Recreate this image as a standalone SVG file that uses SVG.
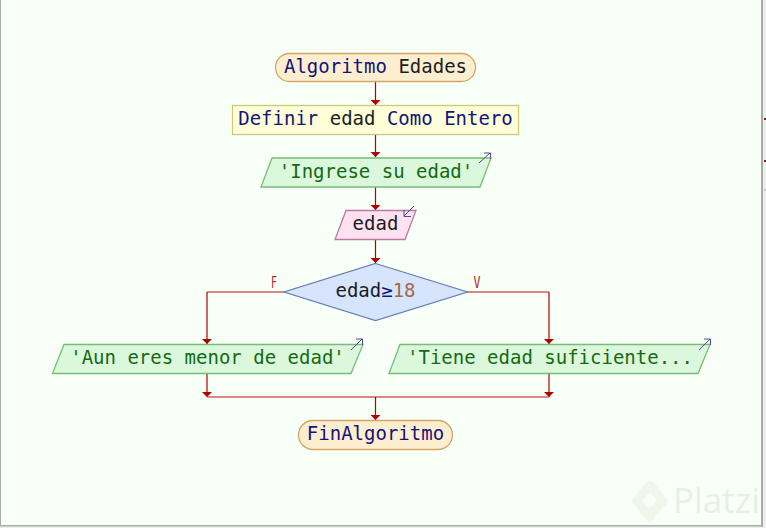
<svg xmlns="http://www.w3.org/2000/svg" width="766" height="528" viewBox="0 0 766 528">
<defs>
<marker id="ah" markerUnits="userSpaceOnUse" markerWidth="10" markerHeight="6" refX="5" refY="5" orient="0" overflow="visible"><path d="M0 0H10L5 5Z" fill="#b00000"/></marker>
</defs>
<style>
text{font-family:"DejaVu Sans Mono","Liberation Mono",monospace;font-size:19px;text-anchor:middle;fill:#1c1c24}
.k{fill:#14147c}.s{fill:#146a14}.n{fill:#a5694f}
.lbl{font-size:15px;fill:#b02828;font-family:"DejaVu Sans Mono",monospace}
.c{fill:none;stroke:#b00000;stroke-width:1.2}
.c2{fill:none;stroke:#d06060;stroke-width:1.4}
.m{marker-end:url(#ah)}
.io{fill:none;stroke:#4a4a9a;stroke-width:1}
.term{fill:#fdeed0;stroke:#cfa868;stroke-width:1.3}
.def{fill:#ffffd8;stroke:#cfc878;stroke-width:1.3}
.out{fill:#dcf8dc;stroke:#78bc78;stroke-width:1.3}
.inp{fill:#ffe2f0;stroke:#b87aa0;stroke-width:1.3}
.dec{fill:#d6e4fc;stroke:#6680b8;stroke-width:1.3}
</style>
<rect width="766" height="528" fill="#f8fff6"/>
<rect x="763" y="0" width="3" height="528" fill="#eeeeee"/>
<rect x="0" y="526.500" width="766" height="1.500" fill="#eeeeee"/>
<rect x="761" y="0" width="2" height="527" fill="#a8aca8"/>
<rect x="0" y="525" width="763" height="1.500" fill="#a8aca8"/>
<rect x="0" y="0" width="1" height="526" fill="#a8aca8"/>
<path d="M764 119H766M764 161H766" stroke="#8a2020" stroke-width="2"/>
<path d="M764 190H766" stroke="#b0a0b0" stroke-width="1"/>
<g id="watermark">
<path d="M650 485L637 501L650 517M650 485L663 501L653 511" fill="none" stroke="#f0f6ea" stroke-width="9" stroke-linejoin="round" stroke-linecap="round"/>
<text x="716.500" y="513" style="font-family:'Open Sans','Liberation Sans',sans-serif;font-size:35px;fill:#e9efe8">Platzi</text>
</g>
<g id="connectors">
<path class="c m" d="M375.500 82V105"/>
<path class="c m" d="M375.500 135V157"/>
<path class="c m" d="M375.500 187V210"/>
<path class="c m" d="M375.500 240V263"/>
<path class="c2" d="M284 292H207"/>
<path class="c m" d="M207 292V344"/>
<path class="c2" d="M467 292H549"/>
<path class="c m" d="M549 292V344"/>
<path class="c m" d="M207 374V397"/>
<path class="c m" d="M549 374V397"/>
<path class="c2" d="M207 397H549"/>
<path class="c m" d="M375.500 397V420"/>
<text class="lbl" x="274" y="288" textLength="6" lengthAdjust="spacingAndGlyphs">F</text>
<text class="lbl" x="477" y="288" textLength="7" lengthAdjust="spacingAndGlyphs">V</text>
</g>
<g id="start"><rect class="term" x="275.500" y="53.500" width="200" height="28" rx="14"/>
<text x="375.500" y="73"><tspan class="k">Algoritmo</tspan> Edades</text></g>
<g id="define"><rect class="def" x="232.500" y="105.500" width="286" height="29"/>
<text x="375.500" y="125"><tspan class="k">Definir</tspan> edad <tspan class="k">Como</tspan> <tspan class="k">Entero</tspan></text></g>
<g id="output1"><path class="out" d="M272 158H491L480 187H261Z"/>
<text class="s" x="376" y="178">'Ingrese su edad'</text>
<path class="io" d="M479 163L490 153M484 153H490.500V159"/></g>
<g id="input1"><path class="inp" d="M346 210.500H416L405 239.500H335Z"/>
<text x="375.500" y="230">edad</text>
<path class="io" d="M414 206L404 216M404 210V216.500H411"/></g>
<g id="decision"><path class="dec" d="M375.500 263.500L467.500 292L375.500 320.500L284 292Z"/>
<text x="375.500" y="297">edad<tspan class="k">≥</tspan><tspan class="n">18</tspan></text></g>
<g id="output2"><path class="out" d="M64 344.500H363L351 373.500H52.500Z"/>
<text class="s" x="207.500" y="364">'Aun eres menor de edad'</text>
<path class="io" d="M351 350L362 339M356 339H362.500V345"/></g>
<g id="output3"><path class="out" d="M400 344.500H710L698 373.500H389Z"/>
<text class="s" x="550" y="364">'Tiene edad suficiente...</text>
<path class="io" d="M699 350L710 339M704 339H710.500V345"/></g>
<g id="end"><rect class="term" x="298.500" y="420.500" width="154" height="29" rx="14.500"/>
<text class="k" x="375.500" y="440">FinAlgoritmo</text></g>
</svg>
